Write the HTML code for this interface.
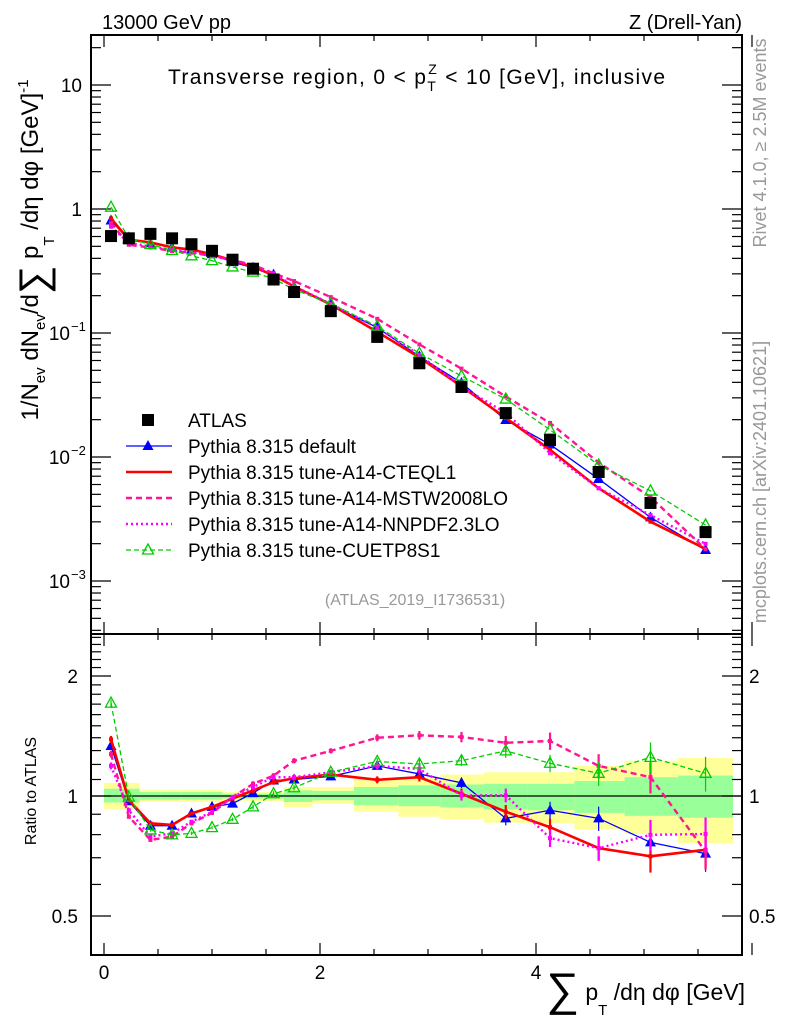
<!DOCTYPE html>
<html><head><meta charset="utf-8"><style>
html,body{margin:0;padding:0;background:#fff;}
svg{display:block;font-family:"Liberation Sans",Arial,sans-serif;}
</style></head><body>
<svg id="chart" width="786" height="1024" viewBox="0 0 786 1024" xmlns="http://www.w3.org/2000/svg">
<rect width="786" height="1024" fill="#fff"/>
<g id="bands"></g>
<g id="axes"></g>
<g id="series"></g>
<text x="102" y="29" font-size="20">13000 GeV pp</text>
<text x="742" y="29" font-size="20" text-anchor="end">Z (Drell-Yan)</text>
<text x="168" y="84" font-size="21" textLength="497" lengthAdjust="spacing">Transverse region, 0 &lt; p<tspan font-size="14" dy="7">T</tspan><tspan font-size="14" dx="-9" dy="-17">Z</tspan><tspan dy="10"> &lt; 10 [GeV], inclusive</tspan></text>
<text x="415" y="605" font-size="16" fill="#999" text-anchor="middle">(ATLAS_2019_I1736531)</text>
<text transform="translate(766,143) rotate(-90)" font-size="18" fill="#999" text-anchor="middle">Rivet 4.1.0, ≥ 2.5M events</text>
<text transform="translate(766,482) rotate(-90)" font-size="18" fill="#999" text-anchor="middle">mcplots.cern.ch [arXiv:2401.10621]</text>
<text transform="translate(38,250) rotate(-90)" font-size="24" text-anchor="middle">1/N<tspan font-size="15" dy="7">ev</tspan><tspan dy="-7"> dN</tspan><tspan font-size="15" dy="7">ev</tspan><tspan dy="-7">/d</tspan><tspan font-size="40" dy="9">∑</tspan><tspan dy="-9"> p</tspan><tspan font-size="15" dy="16">T</tspan><tspan dy="-16"> /dη dφ  [GeV]</tspan><tspan font-size="15" dy="-10">-1</tspan></text>
<text transform="translate(36,791) rotate(-90)" font-size="16" text-anchor="middle">Ratio to ATLAS</text>
<text x="745" y="1000" font-size="23" text-anchor="end"><tspan font-size="46" dy="5">∑</tspan><tspan dy="-5"> p</tspan><tspan font-size="15" dy="15">T</tspan><tspan dy="-15"> /dη dφ [GeV]</tspan></text>
<g id="legend"></g>
</svg>
<script>
const xCenters=[0.065,0.23,0.43,0.63,0.81,1.0,1.19,1.38,1.57,1.76,2.1,2.53,2.92,3.31,3.72,4.13,4.58,5.06,5.57];
const atlasVals=[0.605,0.58,0.63,0.58,0.52,0.46,0.39,0.33,0.27,0.214,0.150,0.093,0.057,0.0367,0.0226,0.0137,0.00757,0.00426,0.00248];
const ratioDefault=[1.335,0.97,0.842,0.842,0.904,0.939,0.957,1.017,1.094,1.10,1.12,1.19,1.136,1.079,0.879,0.921,0.879,0.765,0.717];
const ratioCTEQ=[1.387,0.976,0.854,0.846,0.904,0.939,0.985,1.033,1.083,1.108,1.132,1.098,1.115,1.013,0.913,0.835,0.740,0.706,0.733];
const ratioMSTW=[1.274,0.887,0.776,0.791,0.854,0.907,0.994,1.073,1.125,1.226,1.298,1.40,1.42,1.406,1.36,1.374,1.19,1.115,0.726];
const ratioNNPDF=[1.19,0.921,0.791,0.806,0.862,0.913,0.994,1.053,1.115,1.115,1.147,1.19,1.169,1.004,1.004,0.784,0.740,0.799,0.803];
const ratioCUETP=[1.71,0.994,0.822,0.799,0.806,0.833,0.874,0.939,1.013,1.049,1.147,1.221,1.203,1.226,1.298,1.208,1.14,1.25,1.14];
const mcErr=[0.02,0.01,0.01,0.01,0.01,0.01,0.01,0.015,0.015,0.015,0.015,0.02,0.025,0.03,0.04,0.05,0.07,0.09,0.1];
const bandYellowHi=[1.079,1.079,1.037,1.037,1.037,1.037,1.023,1.023,1.023,1.053,1.053,1.104,1.115,1.132,1.147,1.147,1.191,1.226,1.245];
const bandYellowLo=[0.925,0.925,0.966,0.966,0.966,0.966,0.972,0.972,0.972,0.939,0.957,0.913,0.887,0.874,0.857,0.854,0.825,0.803,0.762];
const bandGreenHi=[1.043,1.043,1.023,1.023,1.023,1.023,1.013,1.013,1.013,1.033,1.029,1.053,1.063,1.069,1.073,1.073,1.09,1.115,1.125];
const bandGreenLo=[0.963,0.963,0.979,0.979,0.979,0.979,0.985,0.985,0.985,0.966,0.976,0.948,0.943,0.936,0.925,0.921,0.907,0.892,0.882];
const xTickLabels=[0,2,4];
const mainTickLabels=[[1,"10"],[0,"1"],[-1,"10","−1"],[-2,"10","−2"],[-3,"10","−3"]];
const ratioTickLabels=[[0.5,"0.5"],[1,"1"],[2,"2"]];

const L=91,R=742,T=35,MB=634,B=955;
const X=v=>104+v*108;
const Ym=v=>85-(Math.log10(v)-1)*124;
const Yr=v=>796-Math.log2(v)*120;
const NS="http://www.w3.org/2000/svg";
function mk(tag,attrs,parent){const e=document.createElementNS(NS,tag);for(const k in attrs)e.setAttribute(k,attrs[k]);parent.appendChild(e);return e;}
const axes=document.getElementById('axes'),bands=document.getElementById('bands'),ser=document.getElementById('series'),leg=document.getElementById('legend');

const edges=[0];
for(let i=0;i<xCenters.length-1;i++)edges.push((xCenters[i]+xCenters[i+1])/2);
edges.push(xCenters[xCenters.length-1]+(xCenters[xCenters.length-1]-edges[edges.length-1]));
for(let i=0;i<xCenters.length;i++){
  const y=mk('rect',{x:X(edges[i]),width:X(edges[i+1])-X(edges[i]),y:Yr(bandYellowHi[i]),height:Yr(bandYellowLo[i])-Yr(bandYellowHi[i]),fill:'#ffff99'},bands);
  
  
  const g=mk('rect',{x:X(edges[i]),width:X(edges[i+1])-X(edges[i]),y:Yr(bandGreenHi[i]),height:Yr(bandGreenLo[i])-Yr(bandGreenHi[i]),fill:'#99ff99'},bands);
  
  
}
for(const [t,b,nm] of [[T,MB,'main-frame'],[MB,B,'ratio-frame']]){
  const f=mk('rect',{x:L,y:t,width:R-L,height:b-t,fill:'none',stroke:'#000','stroke-width':2},axes);
  
  
}
mk('line',{x1:L,x2:R,y1:Yr(1),y2:Yr(1),stroke:'#000','stroke-width':1.2},axes);
for(let v=0;v<=6;v+=0.5){
  const major=v%2===0,len=major?12:6;
  for(const [t,b] of [[T,MB],[MB,B]]){
    mk('line',{x1:X(v),x2:X(v),y1:b,y2:b-len,stroke:'#000','stroke-width':1.2},axes);
    mk('line',{x1:X(v),x2:X(v),y1:t,y2:t+len,stroke:'#000','stroke-width':1.2},axes);
  }
}
for(const v of xTickLabels){
  const t=mk('text',{x:X(v),y:979,'font-size':19,'text-anchor':'middle'},axes);t.textContent=v;
  
  
}
for(let d=-4;d<=1;d++){for(let m=1;m<=9;m++){const v=m*Math.pow(10,d);const y=Ym(v);if(y<T||y>MB)continue;const len=m===1?20:10;
  mk('line',{x1:L,x2:L+len,y1:y,y2:y,stroke:'#000','stroke-width':1.2},axes);
  mk('line',{x1:R,x2:R-len,y1:y,y2:y,stroke:'#000','stroke-width':1.2},axes);}}
for(const [p,b,e] of mainTickLabels){
  const t=mk('text',{x:e?70:82,y:Ym(Math.pow(10,p))+7,'font-size':19,'text-anchor':'end'},axes);t.textContent=b;
  
  
  if(e){const s=mk('text',{x:71,y:Ym(Math.pow(10,p))-2,'font-size':13},axes);s.textContent=e;}
}
for(let v=0.4;v<=2.55;v+=0.1){const r=Math.round(v*10)/10;const y=Yr(r);if(y<MB||y>B)continue;const len=(r===0.5||r===1||r===2)?20:10;
  mk('line',{x1:L,x2:L+len,y1:y,y2:y,stroke:'#000','stroke-width':1.2},axes);
  mk('line',{x1:R,x2:R-len,y1:y,y2:y,stroke:'#000','stroke-width':1.2},axes);}
for(const [v,s] of ratioTickLabels){
  const t=mk('text',{x:78,y:Yr(v)+7,'font-size':19,'text-anchor':'end'},axes);t.textContent=s;
  
  
  const t2=mk('text',{x:749,y:Yr(v)+7,'font-size':19},axes);t2.textContent=s;
  
  
}
function marker(g,type,x,y,color){
  if(type==='tri')mk('path',{d:`M${x} ${y-6}L${x+5.5} ${y+4}L${x-5.5} ${y+4}Z`,fill:color},g);
  else if(type==='otri')mk('path',{d:`M${x} ${y-6}L${x+5.5} ${y+4}L${x-5.5} ${y+4}Z`,fill:'none',stroke:color,'stroke-width':1.3},g);
  else if(type==='sq')mk('rect',{x:x-6,y:y-6,width:12,height:12,fill:color},g);
  else mk('rect',{x:x-2,y:y-2,width:4,height:4,fill:color},g);
}
const seriesDefs=[
 {name:'Pythia 8.315 default',r:ratioDefault,color:'#0000ff',w:1.3,dash:'',m:'tri',id:'series-default'},
 {name:'Pythia 8.315 tune-A14-CTEQL1',r:ratioCTEQ,color:'#ff0000',w:2.6,dash:'',m:'dot',id:'series-a14-cteql1'},
 {name:'Pythia 8.315 tune-A14-MSTW2008LO',r:ratioMSTW,color:'#ff1493',w:2.4,dash:'6,4',m:'dot',id:'series-a14-mstw2008lo'},
 {name:'Pythia 8.315 tune-A14-NNPDF2.3LO',r:ratioNNPDF,color:'#ff00ff',w:2.4,dash:'2,3',m:'dot',id:'series-a14-nnpdf23lo'},
 {name:'Pythia 8.315 tune-CUETP8S1',r:ratioCUETP,color:'#00cc00',w:1.3,dash:'5,3',m:'otri',id:'series-cuetp8s1'}
];
for(const s of seriesDefs){
  const g=mk('g',{},ser);
  
  
  const mainPts=xCenters.map((x,i)=>[X(x),Ym(atlasVals[i]*s.r[i])]);
  const ratPts=xCenters.map((x,i)=>[X(x),Yr(s.r[i])]);
  for(const pts of [mainPts,ratPts]){
    const p=mk('polyline',{points:pts.map(p=>p.join(',')).join(' '),fill:'none',stroke:s.color,'stroke-width':s.w},g);
    if(s.dash)p.setAttribute('stroke-dasharray',s.dash);
  }
  xCenters.forEach((x,i)=>{
    const v=s.r[i],e=mcErr[i];
    mk('line',{x1:X(x),x2:X(x),y1:Yr(v*(1+e)),y2:Yr(v*(1-e)),stroke:s.color,'stroke-width':s.w>2?2.2:1.2},g);
    marker(g,s.m,X(x),Yr(v),s.color);
    marker(g,s.m,X(x),Ym(atlasVals[i]*v),s.color);
  });
}
const ag=mk('g',{},ser);


xCenters.forEach((x,i)=>{
  const r=mk('rect',{x:X(x)-6,y:Ym(atlasVals[i])-6,width:12,height:12,fill:'#000'},ag);
  
  
});
const legRows=[{name:'ATLAS',atlas:true}].concat(seriesDefs);
legRows.forEach((s,i)=>{
  const y=420+i*26;
  const g=mk('g',{},leg);
  
  
  if(s.atlas){mk('rect',{x:142,y:y-6,width:12,height:12,fill:'#000'},g);}
  else{
    const l=mk('line',{x1:126,x2:172,y1:y,y2:y,stroke:s.color,'stroke-width':s.w},g);
    if(s.dash)l.setAttribute('stroke-dasharray',s.dash);
    if(s.m==='tri'||s.m==='otri')marker(g,s.m,148,y,s.color);
  }
  const t=mk('text',{x:188,y:y+7,'font-size':19},g);t.textContent=s.name;
});
</script>
</body></html>
